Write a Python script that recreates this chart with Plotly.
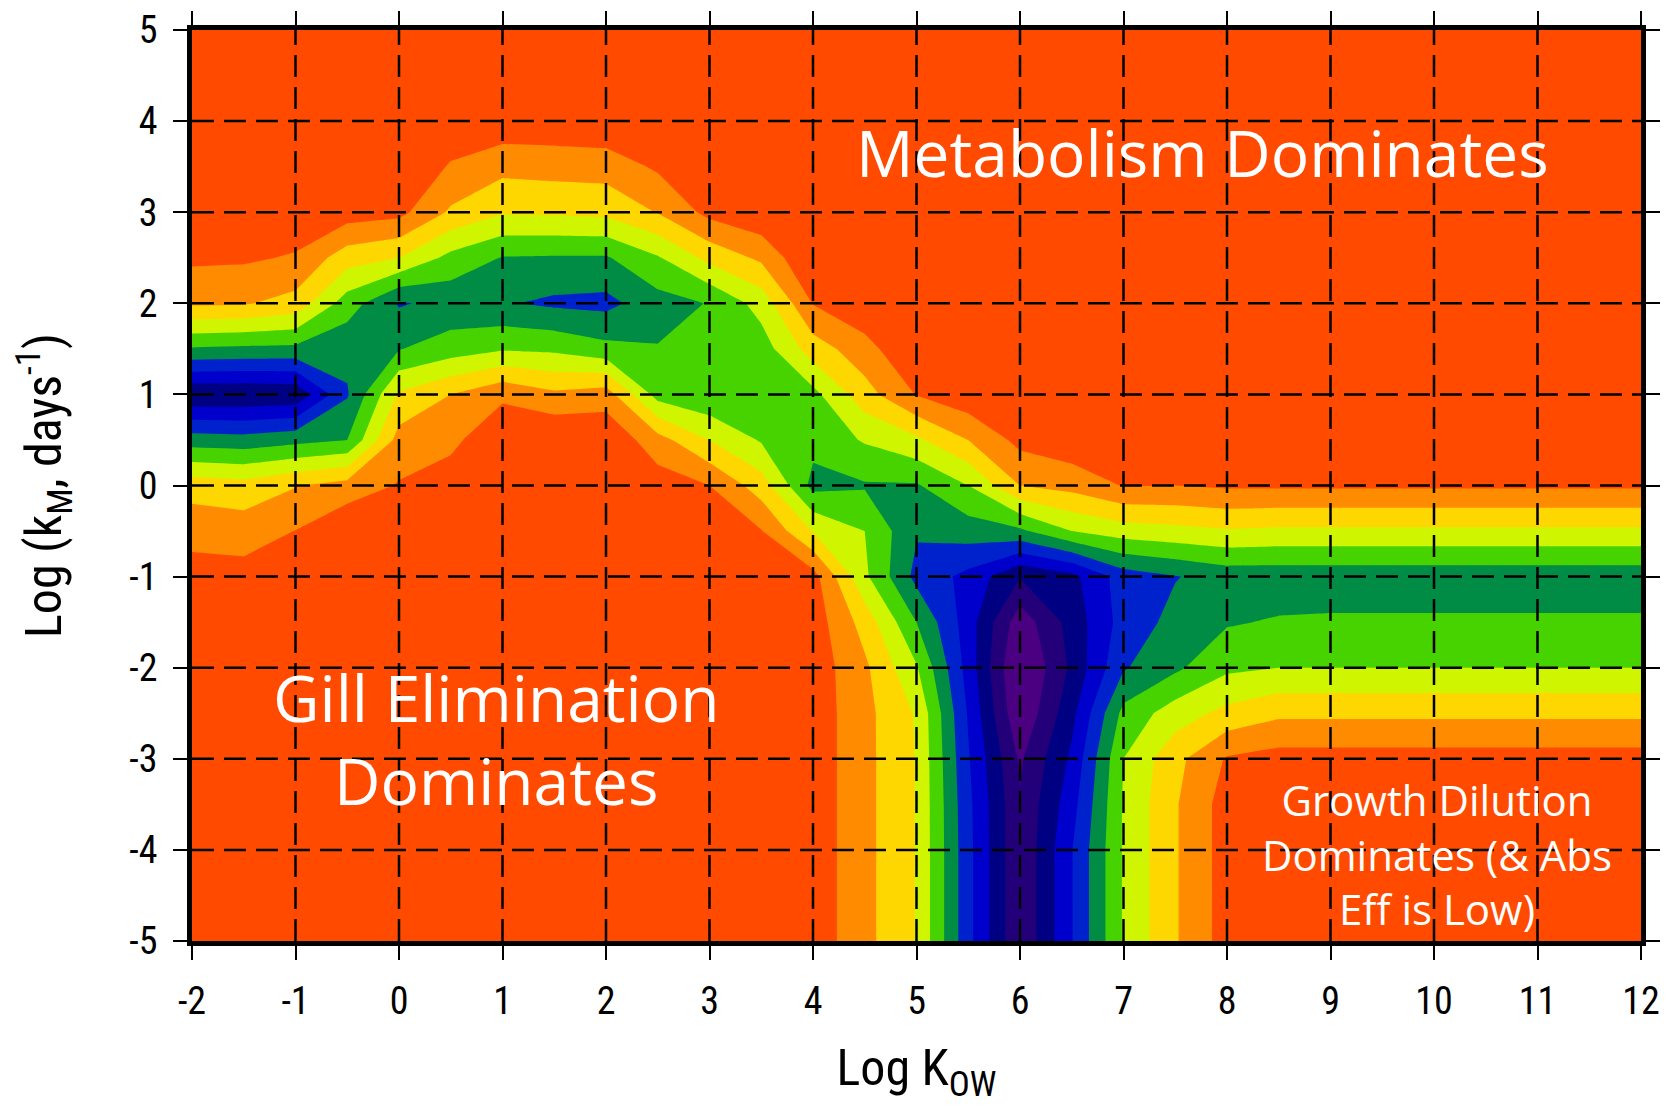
import numpy as np
import plotly.graph_objects as go

# ---- data ----
# grid coordinates of the sampled surface
x_vals = [-2, -1.5, -1, -0.5, 0, 0.5, 1, 1.5, 2, 2.5, 3, 3.5, 4, 4.5, 5, 5.5, 6,
          6.5, 7, 7.5, 8, 8.5, 9, 9.5, 10, 10.5, 11, 11.5, 12]
y_vals = [-5, -4.5, -4, -3.5, -3, -2.5, -2, -1.5, -1, -0.5, 0, 0.5, 1, 1.5, 2,
          2.5, 3, 3.5, 4, 4.5, 5]

# band index read at each grid node, one list per Log Kow column (y ascending)
col_m2_0 = [0, 0, 0, 0, 0, 0, 0, 0.2, 0.53, 1.4, 2.4, 5.5, 8.9, 5.1, 1.85, 0.8, 0.3, 0, 0, 0, 0]
col_m1_5 = [0, 0, 0, 0, 0, 0, 0, 0.25, 0.6, 1.5, 2.6, 5.6, 8.9, 5.2, 1.9, 0.85, 0.3, 0, 0, 0, 0]
col_m1_0 = [0, 0, 0, 0, 0, 0, 0, 0.1, 0.4, 0.98, 2.05, 5.3, 8.8, 5.25, 2.35, 1.1, 0.3, 0, 0, 0, 0]
col_m0_5 = [0, 0, 0, 0, 0, 0, 0, 0, 0, 0.1, 1.6, 5.0, 6.1, 5.7, 4.5, 2.55, 0.5, 0, 0, 0, 0]
col_p0_0 = [0, 0, 0, 0, 0, 0, 0, 0, 0, 0.2, 0.92, 1.6, 2.85, 5.05, 6.1, 3.0, 0.7, 0.1, 0, 0, 0]
col_p0_5 = [0, 0, 0, 0, 0, 0, 0, 0, 0, 0, 0.5, 1.25, 2.0, 4.5, 5.7, 4.3, 2.15, 1.1, 0.3, 0, 0]
col_p1_0 = [0, 0, 0, 0, 0, 0, 0, 0, 0, 0, 0, 0.2, 1.2, 4.1, 5.9, 5.05, 2.9, 1.7, 0.3, 0, 0]
col_p1_5 = [0, 0, 0, 0, 0, 0, 0, 0, 0, 0, 0, 0, 1.8, 4.2, 6.2, 5.1, 2.85, 1.6, 0.3, 0, 0]
col_p2_0 = [0, 0, 0, 0, 0, 0, 0, 0, 0, 0, 0, 0.18, 1.5, 4.7, 6.3, 5.1, 2.75, 1.55, 0.2, 0, 0]
col_p2_5 = [0, 0, 0, 0, 0, 0, 0, 0, 0, 0, 0.5, 1.6, 4.4, 4.95, 5.4, 4.1, 1.95, 0.85, 0, 0, 0]
col_p3_0 = [0, 0, 0, 0, 0, 0, 0, 0, 0, 0.3, 1.0, 3.0, 4.85, 4.8, 4.95, 2.7, 0.7, 0, 0, 0, 0]
col_p3_5 = [0, 0, 0, 0, 0, 0, 0, 0, 0.3, 0.95, 2.5, 4.1, 4.6, 4.5, 3.6, 1.8, 0.2, 0, 0, 0, 0]
col_p4_0 = [0.4, 0.4, 0.4, 0.4, 0.4, 0.4, 0.4, 0.45, 0.6, 3.05, 5.3, 4.7, 4.3, 2.5, 0.95, 0, 0, 0, 0, 0, 0]
col_p4_5 = [1.7, 1.7, 1.7, 1.7, 1.7, 1.7, 1.8, 2.4, 3.8, 4.0, 5.1, 3.9, 2.4, 1.4, 0.2, 0, 0, 0, 0, 0, 0]
col_p5_0 = [3.05, 3.05, 3.05, 3.05, 3.05, 3.1, 3.9, 5.0, 6.3, 5.9, 5.1, 3.2, 0.95, 0, 0, 0, 0, 0, 0, 0, 0]
col_p5_5 = [6.7, 6.7, 6.7, 6.75, 6.9, 7.1, 7.4, 7.5, 7.3, 5.5, 4.0, 2.0, 0.3, 0, 0, 0, 0, 0, 0, 0, 0]
col_p6_0 = [9.9, 9.9, 9.9, 9.9, 10.15, 10.9, 11.2, 10.6, 8.95, 5.2, 2.0, 0.7, 0, 0, 0, 0, 0, 0, 0, 0, 0]
col_p6_5 = [7.05, 7.05, 7.05, 7.4, 7.8, 8.3, 8.8, 8.6, 8.3, 4.0, 1.65, 0.3, 0, 0, 0, 0, 0, 0, 0, 0, 0]
col_p7_0 = [3.9, 3.9, 3.9, 3.9, 4.0, 4.7, 6.1, 6.6, 6.5, 3.5, 0.95, 0, 0, 0, 0, 0, 0, 0, 0, 0, 0]
col_p7_5 = [2.1, 2.1, 2.1, 2.1, 2.3, 3.5, 5.2, 5.7, 6.05, 3.3, 1.0, 0, 0, 0, 0, 0, 0, 0, 0, 0, 0]
col_p8_0 = [0.55, 0.55, 0.55, 0.55, 0.9, 2.7, 4.2, 5.1, 5.6, 3.1, 0.85, 0, 0, 0, 0, 0, 0, 0, 0, 0, 0]
col_p8_5 = [0, 0, 0, 0, 0.6, 2.2, 4.0, 4.9, 5.6, 3.2, 0.85, 0, 0, 0, 0, 0, 0, 0, 0, 0, 0]
col_p9_0 = [0, 0, 0, 0, 0.6, 2.2, 4.0, 4.85, 5.6, 3.2, 0.85, 0, 0, 0, 0, 0, 0, 0, 0, 0, 0]
col_p9_5 = [0, 0, 0, 0, 0.6, 2.2, 4.0, 4.85, 5.6, 3.2, 0.85, 0, 0, 0, 0, 0, 0, 0, 0, 0, 0]
col_p10_0 = [0, 0, 0, 0, 0.6, 2.2, 4.0, 4.85, 5.6, 3.2, 0.85, 0, 0, 0, 0, 0, 0, 0, 0, 0, 0]
col_p10_5 = [0, 0, 0, 0, 0.6, 2.2, 4.0, 4.85, 5.6, 3.2, 0.85, 0, 0, 0, 0, 0, 0, 0, 0, 0, 0]
col_p11_0 = [0, 0, 0, 0, 0.6, 2.2, 4.0, 4.85, 5.6, 3.2, 0.85, 0, 0, 0, 0, 0, 0, 0, 0, 0, 0]
col_p11_5 = [0, 0, 0, 0, 0.6, 2.2, 4.0, 4.85, 5.6, 3.2, 0.85, 0, 0, 0, 0, 0, 0, 0, 0, 0, 0]
col_p12_0 = [0, 0, 0, 0, 0.6, 2.2, 4.0, 4.85, 5.6, 3.2, 0.85, 0, 0, 0, 0, 0, 0, 0, 0, 0, 0]

columns = [col_m2_0, col_m1_5, col_m1_0, col_m0_5, col_p0_0, col_p0_5, col_p1_0,
           col_p1_5, col_p2_0, col_p2_5, col_p3_0, col_p3_5, col_p4_0, col_p4_5,
           col_p5_0, col_p5_5, col_p6_0, col_p6_5, col_p7_0, col_p7_5, col_p8_0,
           col_p8_5, col_p9_0, col_p9_5, col_p10_0, col_p10_5, col_p11_0,
           col_p11_5, col_p12_0]

x_ticks = [-2, -1, 0, 1, 2, 3, 4, 5, 6, 7, 8, 9, 10, 11, 12]
x_tick_labels = ["-2", "-1", "0", "1", "2", "3", "4", "5", "6", "7", "8", "9", "10", "11", "12"]
y_ticks = [-5, -4, -3, -2, -1, 0, 1, 2, 3, 4, 5]
y_tick_labels = ["-5", "-4", "-3", "-2", "-1", "0", "1", "2", "3", "4", "5"]

band_colors = ["#FF4A00", "#FF8C00", "#FFD700", "#CFF500", "#46D300", "#008C45",
               "#0022CC", "#0000CD", "#000082", "#23007A", "#4B0082"]

# ---- figure ----
z = np.array(columns).T

colorscale = []
for k in range(10):
    colorscale.append([k / 10, band_colors[k]])
    colorscale.append([(k + 1) / 10 if k < 9 else 0.99, band_colors[k]])
colorscale.append([1.0, band_colors[10]])

fig = go.Figure()
fig.add_trace(go.Contour(
    x=x_vals, y=y_vals, z=z,
    autocontour=False,
    contours=dict(start=1, end=10, size=1, coloring="fill", showlines=False),
    colorscale=colorscale,
    showscale=False,
    line=dict(width=0, smoothing=0),
    hoverinfo="skip",
))

grid_style = dict(color="black", width=2.5, dash="22px,10px")
shapes = []
for xv in x_ticks[1:-1]:
    shapes.append(dict(type="line", xref="x", yref="y", x0=xv, x1=xv,
                       y0=y_ticks[0], y1=y_ticks[-1], line=grid_style, layer="above"))
for yv in y_ticks[1:-1]:
    shapes.append(dict(type="line", xref="x", yref="y", y0=yv, y1=yv,
                       x0=x_ticks[0], x1=x_ticks[-1], line=grid_style, layer="above"))

label_font = "Liberation Sans Narrow, Arial Narrow, Roboto Condensed, DejaVu Sans Condensed, Liberation Sans, Arial, sans-serif"
anno_font = "Open Sans, Noto Sans, sans-serif"

axis_common = dict(
    ticks="outside", ticklen=14, tickwidth=2, tickcolor="black",
    showline=True, linewidth=5, linecolor="black", mirror="ticks",
    showgrid=False, zeroline=False, automargin=False,
    tickfont=dict(family=label_font, size=38, color="black"),
)

fig.update_layout(
    width=1671, height=1107,
    margin=dict(l=184, r=38, t=22, b=174, autoexpand=False),
    paper_bgcolor="white", plot_bgcolor="white",
    shapes=shapes,
    xaxis=dict(range=[-2, 12], tickvals=x_ticks, ticktext=x_tick_labels,
               title=dict(text="Log K<sub>OW</sub>", standoff=30,
                          font=dict(family=label_font, size=50, color="black")),
               ticklabelstandoff=8,
               **axis_common),
    yaxis=dict(range=[-5, 5], tickvals=y_ticks, ticktext=y_tick_labels,
               title=dict(text="Log (k<sub>M</sub>, days<sup>-1</sup>)", standoff=60,
                          font=dict(family=label_font, size=50, color="black")),
               ticklabelstandoff=8,
               **axis_common),
    annotations=[
        dict(x=7.76, y=3.66, xref="x", yref="y", text="Metabolism Dominates",
             showarrow=False, font=dict(family=anno_font, size=64, color="white")),
        dict(x=0.94, y=-2.78, xref="x", yref="y", text="Gill Elimination<br>Dominates",
             showarrow=False, font=dict(family=anno_font, size=64, color="white")),
        dict(x=10.03, y=-4.05, xref="x", yref="y",
             text="Growth Dilution<br>Dominates (&amp; Abs<br>Eff is Low)",
             showarrow=False, font=dict(family=anno_font, size=42, color="white")),
    ],
)

fig.write_html("out.html")
